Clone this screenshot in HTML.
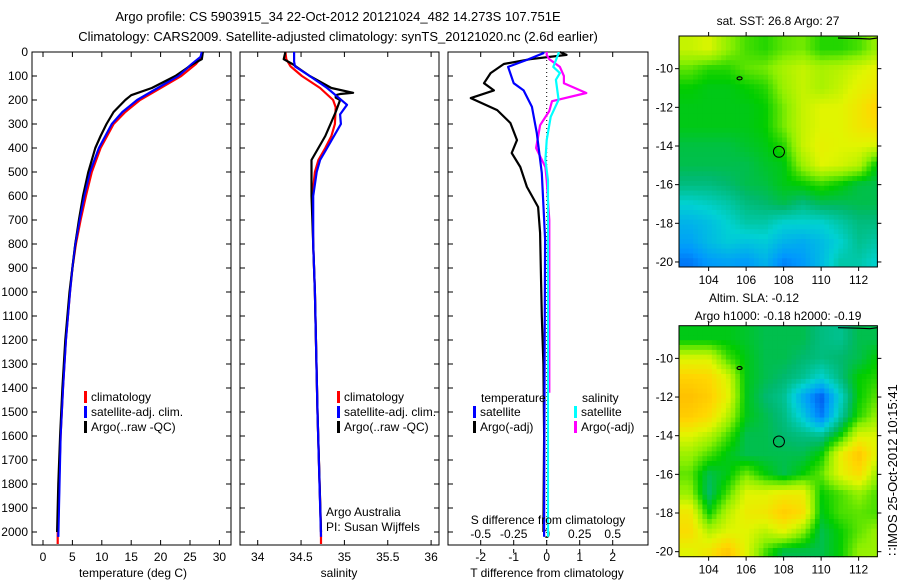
<!DOCTYPE html>
<html><head><meta charset="utf-8"><style>
html,body{margin:0;padding:0;background:#fff;}
svg{display:block;font-family:"Liberation Sans",sans-serif;}
text{font-size:12px;fill:#000;}
</style></head><body>
<svg id="fig" width="900" height="580" viewBox="0 0 900 580" xmlns="http://www.w3.org/2000/svg">
<text x="338" y="21" text-anchor="middle" style="font-size:13px">Argo profile: CS 5903915_34 22-Oct-2012 20121024_482 14.273S 107.751E</text>
<text x="338" y="41" text-anchor="middle" style="font-size:13px">Climatology: CARS2009. Satellite-adjusted climatology: synTS_20121020.nc (2.6d earlier)</text>
<g id="g"></g>
</svg>
<script>
// ---------- data ----------
const depthTicks=[0,100,200,300,400,500,600,700,800,900,1000,1100,1200,1300,1400,1500,1600,1700,1800,1900,2000];
const tempTicks=[0,5,10,15,20,25,30];
const salTicks=[34,34.5,35,35.5,36];
const dtTicks=[-2,-1,0,1,2];
const dsTicks=[-0.5,-0.25,0,0.25,0.5];
const dsTickLabels=["-0.5","-0.25","0","0.25","0.5"];
// temperature profiles
const tClimD=[0,20,50,100,150,200,250,300,400,500,600,700,800,900,1000,1200,1400,1600,1800,2000,2050];
const tClimV=[27,27,26,23.5,20,16.5,14,12,9.8,8.3,7.3,6.4,5.6,5.0,4.6,3.9,3.4,3.0,2.7,2.5,2.5];
const tSatD=[0,20,50,100,150,200,250,300,400,500,600,700,800,900,1000,1200,1400,1600,1800,2020];
const tSatV=[27,26.8,25.3,23,19.5,16,13.5,11.7,9.5,8.0,7.0,6.2,5.5,5.0,4.6,3.9,3.4,3.0,2.8,2.6];
const tArgoD=[0,30,50,100,150,180,200,250,300,350,400,500,600,700,800,1000,1200,1400,1600,1800,2000];
const tArgoV=[27.2,27,25.5,22.5,18.5,15,14,12,10.8,9.8,8.9,7.7,6.8,6.1,5.5,4.5,3.8,3.3,2.9,2.6,2.4];
// salinity profiles
const sClimD=[0,30,60,100,150,200,230,300,350,400,450,500,600,800,1000,1500,2000,2050];
const sClimV=[34.32,34.33,34.38,34.51,34.72,34.87,34.9,34.89,34.85,34.78,34.7,34.66,34.63,34.64,34.66,34.69,34.73,34.73];
const sSatD=[0,40,60,100,150,220,260,300,400,450,500,600,800,1000,1500,2020];
const sSatV=[34.42,34.42,34.43,34.6,34.8,35.03,34.95,34.96,34.8,34.72,34.68,34.64,34.64,34.66,34.69,34.73];
const sArgoD=[0,30,50,100,150,170,175,180,190,200,250,300,350,400,450,500,600,800,1000,1500,2000];
const sArgoV=[34.32,34.3,34.4,34.6,34.85,35.1,34.95,34.9,34.9,34.95,34.9,34.84,34.78,34.7,34.62,34.62,34.62,34.64,34.66,34.69,34.73];
// differences
const dtArgoD=[0,12,30,50,88,130,160,192,242,296,367,421,479,562,646,754,900,1100,1300,1600,2000];
const dtArgoV=[0.4,0.6,-0.5,-1.3,-1.7,-1.9,-1.6,-2.3,-1.5,-1.1,-0.9,-1.06,-0.8,-0.6,-0.26,-0.2,-0.18,-0.15,-0.1,-0.08,-0.1];
const dtSatD=[0,5,33,62,130,160,228,338,504,780,1200,1600,2020];
const dtSatV=[-0.1,-0.1,-0.6,-1.17,-1.0,-0.7,-0.45,-0.3,-0.15,-0.05,-0.06,-0.07,-0.08];
const dsArgoD=[0,12,30,62,100,130,171,205,246,305,400,480,535,700,1000,1420];
const dsArgoV=[0,0,0.02,0.1,0.13,0.13,0.3,0.04,0.02,-0.05,-0.08,-0.01,0,0.02,0.02,0.02];
const dsSatD=[0,5,62,88,116,199,270,367,450,535,800,1200,2020];
const dsSatV=[0.09,0.09,0.05,0.1,0.07,0.09,0.03,0,-0.01,0.01,0.01,0.01,0.01];
// maps (rows lat -9..-20, cols lon 103..113)
const mapLons=[103,104,105,106,107,108,109,110,111,112,113];
const mapLats=[-9,-10,-11,-12,-13,-14,-15,-16,-17,-18,-19,-20];
const sstGrid=[
[.72,.75,.65,.58,.55,.6,.62,.55,.55,.58,.66],
[.6,.55,.55,.6,.62,.68,.72,.68,.7,.74,.78],
[.52,.5,.5,.52,.55,.66,.72,.68,.72,.78,.82],
[.5,.5,.5,.5,.52,.62,.72,.76,.76,.82,.9],
[.5,.5,.5,.5,.52,.62,.72,.76,.76,.82,.86],
[.46,.46,.46,.48,.5,.55,.72,.78,.76,.76,.74],
[.45,.45,.45,.45,.48,.5,.66,.76,.74,.7,.5],
[.4,.4,.42,.45,.46,.5,.52,.56,.52,.46,.45],
[.3,.32,.35,.4,.42,.45,.4,.44,.44,.45,.45],
[.22,.25,.3,.35,.35,.3,.3,.3,.35,.4,.4],
[.18,.24,.28,.26,.28,.22,.2,.24,.3,.38,.35],
[.1,.16,.18,.16,.22,.12,.16,.24,.35,.35,.3]];
const slaGrid=[
[.5,.5,.5,.48,.45,.45,.45,.4,.38,.45,.45],
[.75,.75,.58,.5,.45,.45,.42,.4,.42,.45,.52],
[.9,.88,.75,.5,.45,.42,.38,.3,.4,.52,.55],
[.97,.92,.78,.5,.42,.38,.2,.05,.3,.52,.6],
[.92,.86,.7,.5,.45,.4,.28,.1,.35,.55,.66],
[.76,.7,.58,.45,.45,.42,.4,.38,.52,.75,.75],
[.66,.58,.5,.45,.45,.45,.45,.52,.78,.95,.75],
[.6,.45,.5,.62,.52,.45,.52,.6,.76,.86,.65],
[.66,.42,.58,.76,.76,.8,.8,.52,.58,.65,.58],
[.82,.52,.7,.8,.82,.92,.86,.5,.58,.6,.58],
[.86,.7,.76,.76,.7,.76,.64,.45,.52,.6,.66],
[.76,.82,.95,.76,.58,.45,.45,.45,.52,.65,.66]];
const mapLonTicks=[104,106,108,110,112];
const mapLatTicks=[-10,-12,-14,-16,-18,-20];
const argoPos=[107.75,-14.3];

// ---------- helpers ----------
const NS="http://www.w3.org/2000/svg";
const G=document.getElementById('g');
function mk(tag,attrs,parent){const e=document.createElementNS(NS,tag);for(const k in attrs)e.setAttribute(k,attrs[k]);(parent||G).appendChild(e);return e;}
const yD=d=>52+0.24*d;
const xT=t=>43+5.88*t;
const xS=s=>257.7+86.7*(s-34);
const xDT=v=>546.7+33*v;
const xDS=v=>546.7+132*v;

function frame(x0,x1,name){
  const r=mk('rect',{x:x0,y:52,width:x1-x0,height:493,fill:'none',stroke:'#000','stroke-width':1});
  
  
  depthTicks.forEach(d=>{
    const y=yD(d);
    const t1=mk('line',{x1:x0,x2:x0+5,y1:y,y2:y,stroke:'#000'});
    
    
    const t2=mk('line',{x1:x1-5,x2:x1,y1:y,y2:y,stroke:'#000'});
    
    
  });
}
function xTicks(vals,labels,fx,ylab,name,top){
  vals.forEach((v,i)=>{
    const x=fx(v);
    const b=mk('line',{x1:x,x2:x,y1:545,y2:540,stroke:'#000'});
    
    
    if(top){const t=mk('line',{x1:x,x2:x,y1:52,y2:57,stroke:'#000'});
      
      }
    const l=mk('text',{x:x,y:ylab,'text-anchor':'middle'});l.textContent=labels[i];
    
    
  });
}
function line(D,V,fx,color,name,w){
  const pts=D.map((d,i)=>fx(V[i]).toFixed(1)+','+yD(d).toFixed(1)).join(' ');
  const p=mk('polyline',{points:pts,fill:'none',stroke:color,'stroke-width':w||2.2,'stroke-linejoin':'round'});
  
  
}
function legend(x,y,color,label,name){
  const b=mk('rect',{x:x,y:y-6,width:3,height:12,fill:color});
  
  
  const t=mk('text',{x:x+7,y:y+4});t.textContent=label;
  
  
}
function txt(x,y,s,name,anchor,size){
  const t=mk('text',{x:x,y:y,'text-anchor':anchor||'start'});t.textContent=s;
  if(size)t.style.fontSize=size+'px';
  
  
  return t;
}

depthTicks.forEach(d=>{txt(28,yD(d)+4,String(d),'depth-tick-label','end');});

// panel 1 temperature
frame(32,231,'temperature-panel-frame');
xTicks(tempTicks,tempTicks.map(String),xT,561,'temperature-axis',true);
txt(133,577,'temperature (deg C)','temperature-axis-title','middle');
line(tClimD,tClimV,xT,'#ff0000','temperature-climatology-line');
line(tSatD,tSatV,xT,'#0000ff','temperature-satellite-line');
line(tArgoD,tArgoV,xT,'#000000','temperature-argo-line');
line(tSatD,tSatV,xT,'#0000ff','temperature-satellite-line-top',1.6);
legend(84,397,'#ff0000','climatology','legend-climatology');
legend(84,412,'#0000ff','satellite-adj. clim.','legend-satellite-adj');
legend(84,427,'#000000','Argo(..raw -QC)','legend-argo');

// panel 2 salinity
frame(240,439,'salinity-panel-frame');
xTicks(salTicks,salTicks.map(String),xS,561,'salinity-axis',true);
txt(339,577,'salinity','salinity-axis-title','middle');
line(sClimD,sClimV,xS,'#ff0000','salinity-climatology-line');
line(sArgoD,sArgoV,xS,'#000000','salinity-argo-line');
line(sSatD,sSatV,xS,'#0000ff','salinity-satellite-line');
legend(337,397,'#ff0000','climatology','legend-climatology-2');
legend(337,412,'#0000ff','satellite-adj. clim.','legend-satellite-adj-2');
legend(337,427,'#000000','Argo(..raw -QC)','legend-argo-2');
txt(326,516,'Argo Australia','credit-argo-australia');
txt(326,531,'PI: Susan Wijffels','credit-pi');

// panel 3 differences
frame(448,648,'difference-panel-frame');
const zl=mk('line',{x1:xDT(0),x2:xDT(0),y1:52,y2:545,stroke:'#000','stroke-dasharray':'1,3'});


dtTicks.forEach(v=>{
  const x=xDT(v);
  const t=mk('line',{x1:x,x2:x,y1:52,y2:57,stroke:'#000'});
  
  
  const b=mk('line',{x1:x,x2:x,y1:549,y2:553,stroke:'#000'});
  
  
  txt(x,561,String(v),'dt-tick-label','middle');
});
dsTicks.forEach((v,i)=>{
  const x=xDS(v);
  const b=mk('line',{x1:x,x2:x,y1:545,y2:540,stroke:'#000'});
  
  
  txt(x,538,dsTickLabels[i],'ds-tick-label','middle');
});
line(dtArgoD,dtArgoV,xDT,'#000000','dt-argo-line');
line(dsArgoD,dsArgoV,xDS,'#ff00ff','ds-argo-line');
line(dsSatD,dsSatV,xDS,'#00ffff','ds-satellite-line');
line(dtSatD,dtSatV,xDT,'#0000ff','dt-satellite-line');
txt(548,524,'S difference from climatology','ds-axis-title','middle');
txt(547,577,'T difference from climatology','dt-axis-title','middle');
txt(481,402,'temperature','legend-temperature-heading');
legend(473,412,'#0000ff','satellite','legend-t-satellite');
legend(473,427,'#000000','Argo(-adj)','legend-t-argo');
txt(582,402,'salinity','legend-salinity-heading');
legend(574,412,'#00ffff','satellite','legend-s-satellite');
legend(574,427,'#ff00ff','Argo(-adj)','legend-s-argo');

// ---------- maps ----------
const stops=[[0,[0,60,230]],[0.15,[0,150,255]],[0.3,[0,210,210]],[0.42,[0,185,110]],[0.52,[0,205,0]],[0.64,[140,240,0]],[0.76,[225,245,0]],[0.88,[255,215,0]],[1,[255,185,0]]];
function cmap(v){v=Math.max(0,Math.min(1,v));for(let i=1;i<stops.length;i++){if(v<=stops[i][0]){const a=stops[i-1],b=stops[i],f=(v-a[0])/(b[0]-a[0]);return 'rgb('+a[1].map((c,k)=>Math.round(c+(b[1][k]-c)*f)).join(',')+')';}}return 'rgb(255,185,0)';}
function sample(grid,lon,lat){
  let fi=(lon-mapLons[0]);let fj=(mapLats[0]-lat);
  fi=Math.max(0,Math.min(mapLons.length-1.001,fi));fj=Math.max(0,Math.min(mapLats.length-1.001,fj));
  const i=Math.floor(fi),j=Math.floor(fj),a=fi-i,b=fj-j;
  return grid[j][i]*(1-a)*(1-b)+grid[j][i+1]*a*(1-b)+grid[j+1][i]*(1-a)*b+grid[j+1][i+1]*a*b;
}
const LON0=102.42,LON1=113.0,LAT0=-8.31,LAT1=-20.26;
function drawMap(top,grid,name){
  const X=lon=>679+(lon-LON0)*18.75, Y=lat=>top+(LAT0-lat)*19.33;
  const g=mk('g',{});
  
  
  const step=0.25;
  for(let lat=LAT0;lat>LAT1-0.001;lat-=step){
    for(let lon=LON0;lon<LON1;lon+=step){
      const x0=X(lon),y0=Y(lat),x1=Math.min(X(lon+step),X(LON1)),y1=Math.min(Y(lat-step),Y(LAT1));
      const c=mk('rect',{x:x0.toFixed(1),y:y0.toFixed(1),width:(x1-x0+0.5).toFixed(1),height:(y1-y0+0.5).toFixed(1),fill:cmap(sample(grid,lon+step/2,lat-step/2))},g);
      
      
    }
  }
  const fr=mk('rect',{x:679,y:top,width:X(LON1)-679,height:Y(LAT1)-top,fill:'none',stroke:'#000'});
  
  
  const coast=mk('polyline',{points:[X(110.9),top+2,X(112),top+2.5,X(112.6),top+3,X(113),top+2].join(' '),fill:'none',stroke:'#000','stroke-width':1.2});
  
  
  const isl=mk('ellipse',{cx:X(105.65),cy:Y(-10.5),rx:2.5,ry:1.5,fill:'none',stroke:'#000','stroke-width':1.2});
  
  
  const ac=mk('circle',{cx:X(argoPos[0]),cy:Y(argoPos[1]),r:5.5,fill:'none',stroke:'#000','stroke-width':1});
  
  
  const bot=Y(LAT1);
  mapLonTicks.forEach(l=>{
    const x=X(l);
    const t=mk('line',{x1:x,x2:x,y1:bot,y2:bot+4,stroke:'#000'});
    
    
    const t2=mk('line',{x1:x,x2:x,y1:top,y2:top-4,stroke:'#000'});
    
    
    txt(x,bot+17,String(l),'lon-tick-label','middle');
  });
  mapLatTicks.forEach(l=>{
    const y=Y(l);
    const t=mk('line',{x1:675,x2:679,y1:y,y2:y,stroke:'#000'});
    
    
    const t2=mk('line',{x1:X(LON1),x2:X(LON1)+4,y1:y,y2:y,stroke:'#000'});
    
    
    txt(673,y+4,String(l),'lat-tick-label','end');
  });
}
drawMap(36,sstGrid,'sst-map');
drawMap(325.7,slaGrid,'sla-map');
txt(778,25,'sat. SST: 26.8 Argo: 27','sst-map-title','middle');
txt(754,302,'Altim. SLA: -0.12','sla-map-title','middle');
txt(778,320,'Argo h1000: -0.18 h2000: -0.19','sla-map-subtitle','middle');
const imos=txt(0,0,'\u2237IMOS 25-Oct-2012 10:15:41','imos-timestamp','middle',13);
imos.setAttribute('transform','translate(897,470) rotate(-90)');
</script>
</body></html>
